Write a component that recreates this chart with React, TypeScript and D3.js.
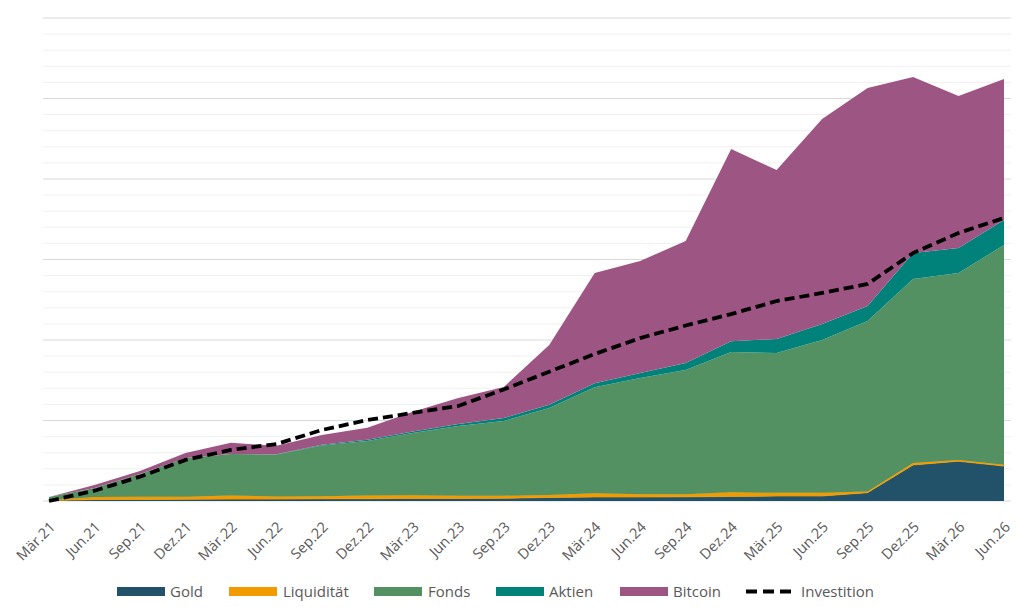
import React from "react";
import * as d3 from "d3";

const categories = [
  "Mär.21", "Jun.21", "Sep.21", "Dez.21", "Mär.22", "Jun.22", "Sep.22", "Dez.22",
  "Mär.23", "Jun.23", "Sep.23", "Dez.23", "Mär.24", "Jun.24", "Sep.24", "Dez.24",
  "Mär.25", "Jun.25", "Sep.25", "Dez.25", "Mär.26", "Jun.26",
];

const gold = [30, 90, 100, 110, 120, 120, 140, 140, 160, 160, 170, 220, 250, 250, 260, 280, 310, 310, 520, 2240, 2470, 2170];
const liquiditaet = [10, 160, 170, 160, 220, 160, 150, 200, 190, 170, 160, 150, 230, 170, 160, 260, 200, 200, 70, 120, 80, 80];
const fonds = [210, 560, 1410, 2400, 2580, 2610, 3160, 3390, 3870, 4330, 4640, 5410, 6580, 7220, 7720, 8710, 8680, 9490, 10590, 11430, 11610, 13650];
const aktien = [0, 0, 0, 0, 0, 10, 40, 80, 100, 130, 180, 200, 250, 310, 430, 680, 870, 990, 930, 1610, 1550, 1550];
const bitcoin = [0, 180, 180, 310, 700, 530, 610, 740, 1230, 1610, 1930, 3710, 6850, 6960, 7580, 11930, 10500, 12740, 13540, 10940, 9450, 8760];
const investition = [0, 640, 1510, 2550, 3170, 3540, 4410, 5030, 5470, 5900, 6930, 8030, 9130, 10120, 10900, 11610, 12420, 12920, 13480, 15400, 16650, 17580];

const seriesKeys = ["Gold", "Liquidität", "Fonds", "Aktien", "Bitcoin"];
const seriesValues: Record<string, number[]> = {
  Gold: gold,
  "Liquidität": liquiditaet,
  Fonds: fonds,
  Aktien: aktien,
  Bitcoin: bitcoin,
};
const colors: Record<string, string> = {
  Gold: "#215269",
  "Liquidität": "#F29B00",
  Fonds: "#539162",
  Aktien: "#00827A",
  Bitcoin: "#9D5683",
};

const yMax = 30000;
const gridStep = 1000;
const majorStep = 5000;

const W = 1024;
const H = 607;
const plotLeft = 43;
const plotRight = 1011;
const plotTop = 18;
const plotBottom = 501;

export default function App() {
  const rows = categories.map((c, i) => {
    const r: Record<string, number | string> = { cat: c };
    seriesKeys.forEach((k) => (r[k] = seriesValues[k][i]));
    return r;
  });

  const x = d3.scalePoint<string>().domain(categories).range([49, 1004]);
  const y = d3.scaleLinear().domain([0, yMax]).range([plotBottom, plotTop]);

  const stacked = d3.stack<any>().keys(seriesKeys)(rows as any);
  const area = d3
    .area<any>()
    .x((d) => x(d.data.cat as string)!)
    .y0((d) => y(d[0]))
    .y1((d) => y(d[1]));

  const line = d3
    .line<number>()
    .x((_, i) => x(categories[i])!)
    .y((d) => y(d));

  const gridVals = d3.range(0, yMax + 1, gridStep);
  const font = "'Open Sans', 'DejaVu Sans', sans-serif";

  const legendItems = [
    { key: "Gold", sx: 117, tx: 170 },
    { key: "Liquidität", sx: 229, tx: 283 },
    { key: "Fonds", sx: 374, tx: 428 },
    { key: "Aktien", sx: 496, tx: 549 },
    { key: "Bitcoin", sx: 620, tx: 673 },
  ];

  return (
    <svg
      width={W}
      height={H}
      style={{ position: "absolute", left: 0, top: 0, display: "block", background: "#fff" }}
    >
      <g>
        {gridVals.map((v) => (
          <line
            key={v}
            x1={plotLeft}
            x2={plotRight}
            y1={y(v)}
            y2={y(v)}
            stroke={v % majorStep === 0 ? "#d9d9d9" : "#f0f0f0"}
            strokeWidth={1}
          />
        ))}
      </g>
      <g>
        {stacked.map((s) => (
          <path
            key={s.key}
            d={area(s as any)!}
            fill={colors[s.key]}
            stroke={s.key === "Liquidität" ? colors[s.key] : "none"}
            strokeWidth={s.key === "Liquidität" ? 0.8 : 0}
          />
        ))}
      </g>
      <path
        d={line(investition)!}
        fill="none"
        stroke="#000"
        strokeWidth={3.8}
        strokeDasharray="10 5"
      />
      <g fontFamily={font} fontSize={14.5} fill="#595959">
        {categories.map((c) => (
          <text
            key={c}
            transform={`translate(${x(c)! + 7},528) rotate(-45)`}
            textAnchor="end"
          >
            {c}
          </text>
        ))}
      </g>
      <g fontFamily={font} fontSize={15} fill="#595959">
        {legendItems.map((it) => (
          <g key={it.key}>
            <rect x={it.sx} y={587} width={48} height={9} fill={colors[it.key]} />
            <text x={it.tx} y={596.5}>
              {it.key}
            </text>
          </g>
        ))}
        <line x1={746} x2={793} y1={591.5} y2={591.5} stroke="#000" strokeWidth={3.8} strokeDasharray="11 6" />
        <text x={801} y={596.5}>
          Investition
        </text>
      </g>
    </svg>
  );
}
